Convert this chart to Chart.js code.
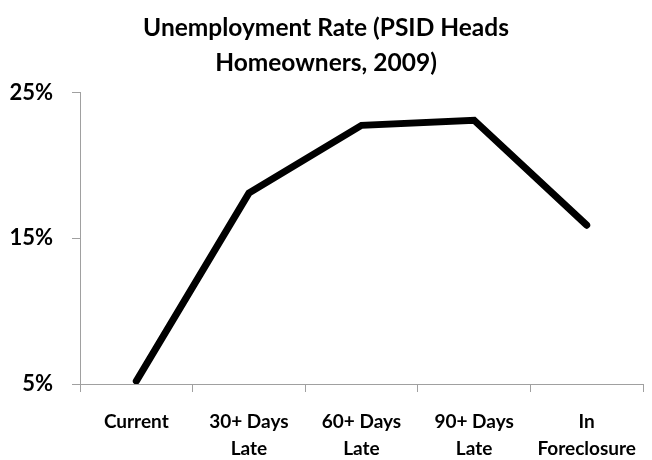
<!DOCTYPE html>
<html>
<head>
<meta charset="utf-8">
<script src="https://cdn.jsdelivr.net/npm/chart.js@4/dist/chart.umd.min.js"></script>
<style>
  html, body { margin: 0; padding: 0; background: #fff; }
  #wrap { width: 652px; height: 460px; }
</style>
</head>
<body>
<div id="wrap"><canvas id="c" width="652" height="460"></canvas></div>
<script>
// Delinquency status categories (two-line labels)
const categories = [
  ['Current'],
  ['30+ Days', 'Late'],
  ['60+ Days', 'Late'],
  ['90+ Days', 'Late'],
  ['In', 'Foreclosure']
];
// Unemployment rate, percent
const unemploymentRate = [5.2, 18.1, 22.75, 23.1, 15.9];
// Y-axis tick values
const yTicks = [5, 15, 25];

const chartTitle = ['Unemployment Rate (PSID Heads', 'Homeowners, 2009)'];
const fontFamily = 'Lato, "Open Sans", sans-serif';

new Chart(document.getElementById('c'), {
  type: 'line',
  data: {
    labels: categories,
    datasets: [{
      data: unemploymentRate,
      borderColor: '#000',
      borderWidth: 7,
      borderCapStyle: 'round',
      borderJoinStyle: 'miter',
      pointRadius: 0,
      tension: 0,
      fill: false
    }]
  },
  options: {
    responsive: false,
    animation: false,
    layout: { padding: { top: 0, right: 0, bottom: 0, left: 0 } },
    plugins: {
      legend: { display: false },
      tooltip: { enabled: false },
      title: {
        display: true,
        text: chartTitle,
        color: '#000',
        font: { family: fontFamily, size: 24.5, weight: 'bold', lineHeight: 1.42 },
        padding: { top: 11, bottom: 12 }
      }
    },
    scales: {
      x: {
        offset: true,
        grid: {
          offset: true,
          drawOnChartArea: false,
          drawTicks: true,
          tickLength: 8,
          color: '#a0a0a0'
        },
        border: { display: true, color: '#a0a0a0', width: 1 },
        ticks: {
          color: '#000',
          padding: 16,
          maxRotation: 0,
          autoSkip: false,
          font: { family: fontFamily, size: 19, weight: 'bold', lineHeight: 1.45 }
        },
        afterFit: (s) => { s.height = 76; }
      },
      y: {
        min: 5,
        max: 25,
        afterBuildTicks: (s) => { s.ticks = yTicks.map(v => ({ value: v })); },
        grid: {
          drawOnChartArea: false,
          drawTicks: true,
          tickLength: 8,
          color: '#a0a0a0'
        },
        border: { display: true, color: '#a0a0a0', width: 1 },
        ticks: {
          color: '#000',
          padding: 19,
          callback: (v) => v + '%',
          font: { family: fontFamily, size: 22, weight: 'bold' }
        },
        afterFit: (s) => { s.width = 80; }
      }
    }
  }
});
</script>
</body>
</html>
